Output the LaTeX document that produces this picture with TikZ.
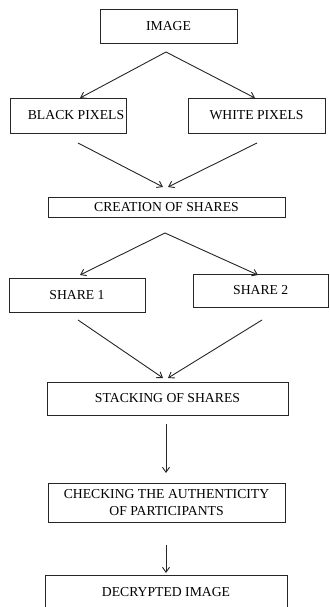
\documentclass[tikz,border=0pt]{standalone}
\usepackage{fontspec}
\setmainfont{Liberation Serif}
\usetikzlibrary{arrows.meta}
\begin{document}
\begin{tikzpicture}[x=1pt,y=-1pt,
  box/.style={draw=black!85, line width=0.9pt, inner sep=0pt, align=center,
    font=\fontsize{13.7}{16.5}\selectfont},
  arr/.style={draw=black!85, line width=0.9pt, -{Straight Barb[length=5pt,width=7pt]}}]
\useasboundingbox (0,0) rectangle (329,607);
\node[box, minimum width=137pt, minimum height=34pt] (image) at (168.5,26) {IMAGE};
\node[box, minimum width=116pt, minimum height=35pt] (black) at (68,115.5) {\hspace*{16pt}BLACK PIXELS};
\node[box, minimum width=137pt, minimum height=35pt] (white) at (256.5,115.5) {WHITE PIXELS};
\node[box, minimum width=237pt, minimum height=20pt] (creation) at (166.5,207) {CREATION OF SHARES};
\node[box, minimum width=136pt, minimum height=34pt] (share1) at (77,295) {SHARE 1};
\node[box, minimum width=135.5pt, minimum height=33pt] (share2) at (260.75,290.5) {SHARE 2};
\node[box, minimum width=241pt, minimum height=33pt] (stacking) at (167.5,398.5) {STACKING OF SHARES};
\node[box, minimum width=237pt, minimum height=39pt] (checking) at (166.5,502.5) {CHECKING THE AUTHENTICITY\\OF PARTICIPANTS};
\node[box, minimum width=242pt, minimum height=34pt] (decrypted) at (166,592) {DECRYPTED IMAGE};
% free ends
\coordinate (apexA) at (166,52);
\coordinate (tipB) at (80,98);
\coordinate (tipW) at (255,98);
\coordinate (fromB) at (78,143);
\coordinate (fromW) at (257,143);
\coordinate (tipCB) at (163,187);
\coordinate (tipCW) at (168,187);
\coordinate (apexC) at (165,233);
\coordinate (tipS1) at (80,275);
\coordinate (tipS2) at (258,275);
\coordinate (fromS1) at (78,320);
\coordinate (fromS2) at (262,320);
\coordinate (tipT1) at (163,378);
\coordinate (tipT2) at (168,378);
\coordinate (fromT) at (166,424);
\coordinate (tipK) at (166,473);
\coordinate (fromK) at (166,545);
\coordinate (tipD) at (166,573);
\draw[arr] (apexA) -- (tipB);
\draw[arr] (apexA) -- (tipW);
\draw[arr] (fromB) -- (tipCB);
\draw[arr] (fromW) -- (tipCW);
\draw[arr] (apexC) -- (tipS1);
\draw[arr] (apexC) -- (tipS2);
\draw[arr] (fromS1) -- (tipT1);
\draw[arr] (fromS2) -- (tipT2);
\draw[arr] (fromT) -- (tipK);
\draw[arr] (fromK) -- (tipD);
\end{tikzpicture}
\end{document}
